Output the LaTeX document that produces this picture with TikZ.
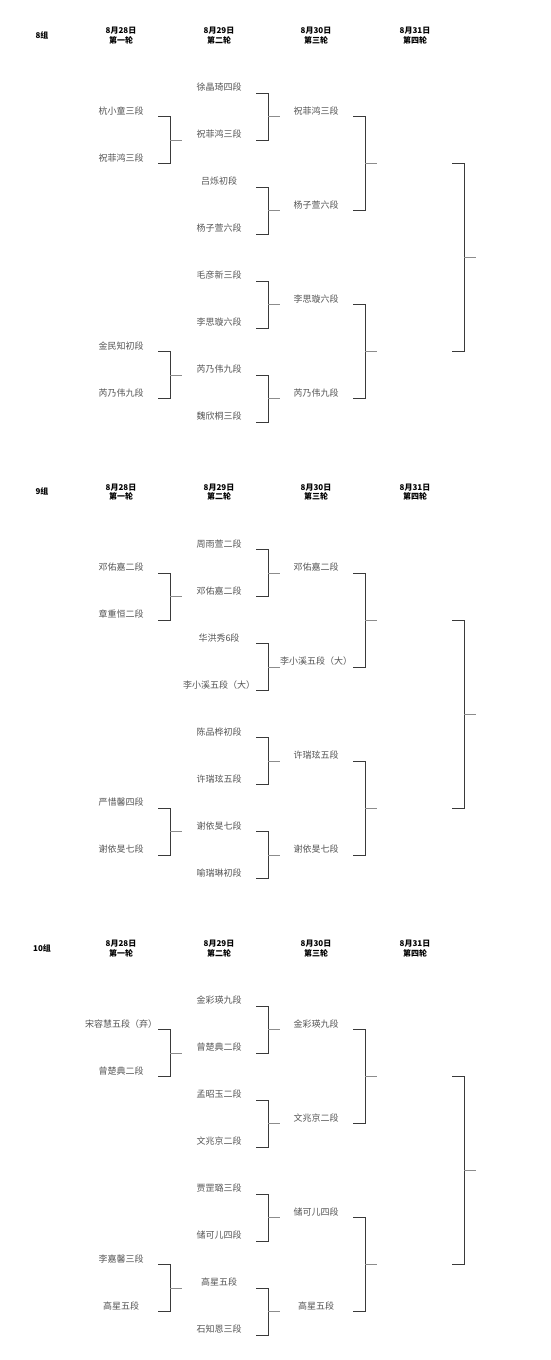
\documentclass[tikz,border=0pt]{standalone}
\usepackage{fontspec}
\setmainfont{Noto Sans CJK SC}
\usetikzlibrary{calc}

\definecolor{namegray}{HTML}{555555}
\definecolor{armgray}{HTML}{3A3A3A}
\definecolor{tickgray}{HTML}{8C8C8C}

\tikzset{
  player/.style={font=\fontsize{9}{10}\selectfont, text=namegray, inner sep=0pt,
    minimum width=74pt, text height=8pt, text depth=2pt, anchor=south},
  heading/.style={font=\fontsize{8}{9.5}\selectfont\bfseries, align=center, inner sep=0pt},
  arm/.style={armgray, line width=0.9pt},
  tick/.style={tickgray, line width=0.6pt}
}

% column heads of one group
\newcommand{\groupheads}[1]{%
  \node[heading] (grp) at (42,35) {#1};
  \node[heading] (h1) at (121,35.5) {8月28日\\第一轮};
  \node[heading] (h2) at (219,35.5) {8月29日\\第二轮};
  \node[heading] (h3) at (316,35.5) {8月30日\\第三轮};
  \node[heading] (h4) at (415,35.5) {8月31日\\第四轮};
}

% brackets of one group: a = round 1, b = round 2, c = round 3, d = round 4
\newcommand{\groupbrackets}{%
  \coordinate (d1) at (452,163.5);
  \coordinate (d2) at (452,351.5);
  \foreach \p/\q in {a1/a2, a3/a4, b1/b2, b3/b4, b5/b6, b7/b8, c1/c2, c3/c4} {
    \draw[arm] (\p.south east) -- ++(12,0) |- (\q.south east);
    \draw[tick] ($(\p.south east)!0.5!(\q.south east)+(12,0)$) -- ++(12,0);
  }
  \draw[arm] (d1) -- ++(12,0) |- (d2);
  \draw[tick] ($(d1)!0.5!(d2)+(12,0)$) -- ++(12,0);
}

\begin{document}
\begin{tikzpicture}[x=1pt, y=-1pt]
  \fill[white] (0,0) rectangle (550,1360);
  \useasboundingbox (0,0) rectangle (550,1360);

  % group 8
  \begin{scope}
    \groupheads{8组}
    \node[player] (a1) at (121,116.5) {杭小童三段};
    \node[player] (a2) at (121,163.5) {祝菲鸿三段};
    \node[player] (a3) at (121,351.5) {金民知初段};
    \node[player] (a4) at (121,398.5) {芮乃伟九段};
    \foreach \t [count=\k] in {徐晶琦四段, 祝菲鸿三段, 吕烁初段, 杨子萱六段,
        毛彦新三段, 李思璇六段, 芮乃伟九段, 魏欣桐三段}
      \node[player] (b\k) at (219,46+47*\k) {\t};
    \foreach \t [count=\k] in {祝菲鸿三段, 杨子萱六段, 李思璇六段, 芮乃伟九段}
      \node[player] (c\k) at (316,22.5+94*\k) {\t};
    \groupbrackets
  \end{scope}

  % group 9
  \begin{scope}[shift={(0,456.5)}]
    \groupheads{9组}
    \node[player] (a1) at (121,116.5) {邓佑嘉二段};
    \node[player] (a2) at (121,163.5) {章重恒二段};
    \node[player] (a3) at (121,351.5) {严惜馨四段};
    \node[player] (a4) at (121,398.5) {谢依旻七段};
    \foreach \t [count=\k] in {周雨萱二段, 邓佑嘉二段, 华洪秀6段, 李小溪五段（大）,
        陈品桦初段, 许瑞玹五段, 谢依旻七段, 喻瑞琳初段}
      \node[player] (b\k) at (219,46+47*\k) {\t};
    \foreach \t [count=\k] in {邓佑嘉二段, 李小溪五段（大）, 许瑞玹五段, 谢依旻七段}
      \node[player] (c\k) at (316,22.5+94*\k) {\t};
    \groupbrackets
  \end{scope}

  % group 10
  \begin{scope}[shift={(0,913)}]
    \groupheads{10组}
    \node[player] (a1) at (121,116.5) {宋容慧五段（弃）};
    \node[player] (a2) at (121,163.5) {曾楚典二段};
    \node[player] (a3) at (121,351.5) {李嘉馨三段};
    \node[player] (a4) at (121,398.5) {高星五段};
    \foreach \t [count=\k] in {金彩瑛九段, 曾楚典二段, 孟昭玉二段, 文兆京二段,
        贾罡璐三段, 储可儿四段, 高星五段, 石知恩三段}
      \node[player] (b\k) at (219,46+47*\k) {\t};
    \foreach \t [count=\k] in {金彩瑛九段, 文兆京二段, 储可儿四段, 高星五段}
      \node[player] (c\k) at (316,22.5+94*\k) {\t};
    \groupbrackets
  \end{scope}
\end{tikzpicture}
\end{document}
